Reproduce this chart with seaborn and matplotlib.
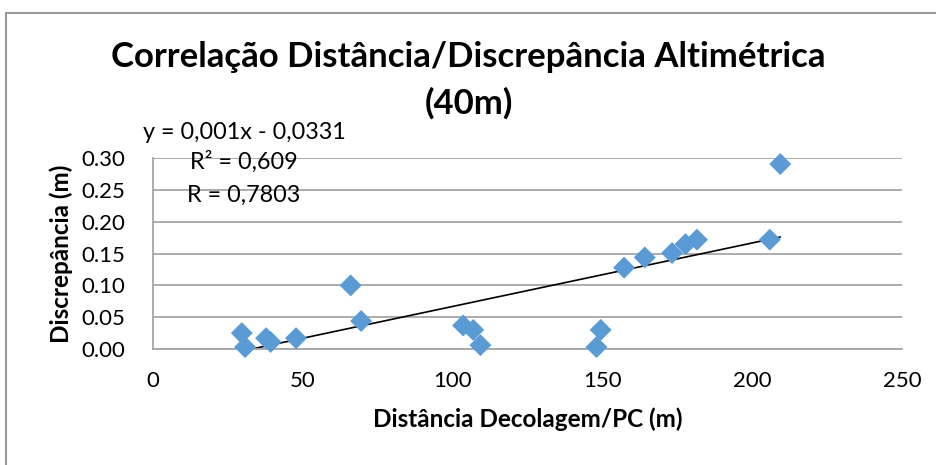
import matplotlib
matplotlib.use("Agg")
import matplotlib.pyplot as plt
import seaborn as sns
import numpy as np
import pandas as pd
from matplotlib.patches import Rectangle

# dados
distancia = [29.7, 30.8, 37.8, 39.3, 47.8, 66.0, 69.5, 103.5, 106.9, 109.3,
             148.0, 149.4, 157.2, 164.1, 173.2, 177.7, 181.5, 205.8, 209.3]
discrepancia = [0.025, 0.003, 0.017, 0.011, 0.017, 0.100, 0.044, 0.037, 0.030, 0.006,
                0.003, 0.030, 0.128, 0.144, 0.151, 0.165, 0.172, 0.172, 0.291]

# linha de tendência (Excel)
inclinacao = 0.001
intercepto = -0.0331
texto_eq = "y = 0,001x - 0,0331"
texto_r2 = "R² = 0,609"
texto_r = "R = 0,7803"

x_ticks = [0, 50, 100, 150, 200, 250]
y_ticks = [0.00, 0.05, 0.10, 0.15, 0.20, 0.25, 0.30]

titulo = ["Correlação Distância/Discrepância Altimétrica", "(40m)"]
rotulo_x = "Distância Decolagem/PC (m)"
rotulo_y = "Discrepância (m)"

df = pd.DataFrame({"dist": distancia, "disc": discrepancia})

sns.set_theme(style="white")
plt.rcParams['font.family'] = ['Lato', 'DejaVu Sans']
plt.rcParams['text.color'] = 'black'
plt.rcParams['axes.labelcolor'] = 'black'

fig = plt.figure(figsize=(9.37, 4.65), dpi=100)
ax = fig.add_axes([0.163, 0.2495, 0.800, 0.410])

sns.scatterplot(data=df, x="dist", y="disc", marker="D", s=125, color="#5B9BD5",
                edgecolor="none", ax=ax, zorder=3, clip_on=False)

# linha de tendência entre min e max de x
xl = np.array([min(distancia), max(distancia)])
ax.plot(xl, inclinacao * xl + intercepto, color="black", lw=1.2, zorder=2)

ax.set_xlim(0, 250)
ax.set_ylim(0, 0.30)
ax.set_xticks(x_ticks)
ax.set_yticks(y_ticks)
ax.set_yticklabels([f"{v:.2f}" for v in y_ticks])
ax.yaxis.grid(True, color="#a6a6a6", lw=1.3)
ax.set_axisbelow(True)

for s in ["top", "right"]:
    ax.spines[s].set_visible(False)
for s in ["left", "bottom"]:
    ax.spines[s].set_color("#a6a6a6")
    ax.spines[s].set_linewidth(1.3)

ax.tick_params(axis="both", which="major", direction="out", length=6, width=1.3,
               color="#a6a6a6", labelsize=16, labelcolor="black", pad=10)
ax.tick_params(axis="y", pad=14)

ax.set_xlabel(rotulo_x, fontsize=17.5, fontweight="bold", labelpad=12)
ax.set_ylabel(rotulo_y, fontsize=17.5, fontweight="bold", labelpad=6)

fig.text(0.5, 1 - 57 / 465, titulo[0], ha="center", va="center", fontsize=25,
         fontweight="bold")
fig.text(0.5, 1 - 103 / 465, titulo[1], ha="center", va="center", fontsize=25,
         fontweight="bold")

ax.text(30.4, 0.341, texto_eq, ha="center", va="center", fontsize=16.8, clip_on=False)
ax.text(30.4, 0.294, texto_r2, ha="center", va="center", fontsize=16.8, clip_on=False)
ax.text(30.4, 0.242, texto_r, ha="center", va="center", fontsize=16.8, clip_on=False)

# borda da área do gráfico
fig.patches.append(Rectangle((6.5 / 937, -0.1), 1.2, 1.1 - 13.5 / 465,
                             transform=fig.transFigure, fill=False,
                             edgecolor="#9a9a9a", lw=1.5))

plt.savefig("out.png", dpi=100)
